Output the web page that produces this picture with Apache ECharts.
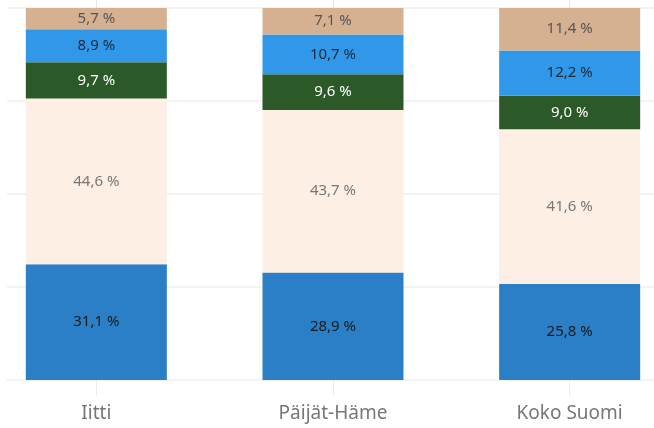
<!DOCTYPE html>
<html>
<head>
<meta charset="utf-8">
<script src="https://cdn.jsdelivr.net/npm/echarts@6/dist/echarts.min.js"></script>
<style>
  html, body { margin: 0; padding: 0; background: #fff; }
  #chart { width: 654px; height: 428px; }
</style>
</head>
<body>
<div id="chart"></div>
<script>
/* =========================================
   DATA
   ========================================= */
const categories = ["Iitti", "Päijät-Häme", "Koko Suomi"];

const seriesA = [31.1, 28.9, 25.8]; // bottom, blue
const seriesB = [44.6, 43.7, 41.6]; // cream
const seriesC = [9.7, 9.6, 9.0];    // dark green
const seriesD = [8.9, 10.7, 12.2];  // light blue
const seriesE = [5.7, 7.1, 11.4];   // tan, top

const gridTicks = [0, 25, 50, 75, 100];

/* =========================================
   CHART
   ========================================= */
const FONT = "Noto Sans";

function fmt(p) {
  return p.value.toFixed(1).replace(".", ",") + " %";
}

function barSeries(name, data, color, labelColor) {
  return {
    name: name,
    type: "bar",
    stack: "total",
    xAxisIndex: 1,
    yAxisIndex: 1,
    barWidth: 141,
    data: data,
    itemStyle: { color: color },
    label: {
      show: true,
      position: "inside",
      formatter: fmt,
      color: labelColor,
      fontFamily: FONT,
      fontSize: 15,
    },
    silent: true,
  };
}

function initChart() {
  const chart = echarts.init(document.getElementById("chart"), null, { renderer: "canvas" });

  const option = {
    animation: false,
    backgroundColor: "#fff",
    grid: [
      // background grid lines
      { left: 7, right: 0, top: 8, bottom: 48, outerBoundsMode: "none" },
      // bars (categories spread wider than the visible area)
      { left: -22, right: -34, top: 8, bottom: 48, outerBoundsMode: "none" },
    ],
    xAxis: [
      { gridIndex: 0, type: "value", show: false },
      {
        gridIndex: 1,
        type: "category",
        data: categories,
        axisLine: { show: false },
        axisTick: { show: true, alignWithLabel: true, length: 16, lineStyle: { color: "#ececec" } },
        axisLabel: { color: "#777", fontSize: 19, fontFamily: FONT, margin: 24 },
      },
      {
        gridIndex: 1,
        type: "category",
        position: "top",
        data: categories,
        axisLine: { show: false },
        axisTick: { show: true, alignWithLabel: true, length: 8, lineStyle: { color: "#e6e6e6" } },
        axisLabel: { show: false },
      },
    ],
    yAxis: [
      {
        gridIndex: 0,
        type: "value",
        min: gridTicks[0],
        max: gridTicks[gridTicks.length - 1],
        interval: 25,
        axisLine: { show: false },
        axisTick: { show: false },
        axisLabel: { show: false },
        splitLine: { lineStyle: { color: "#efefef", width: 1.5 } },
      },
      {
        gridIndex: 1,
        type: "value",
        min: 0,
        max: 100,
        show: false,
      },
    ],
    series: [
      barSeries("A", seriesA, "#2a7fc6", "#1b1b1b"),
      barSeries("B", seriesB, "#fdefe3", "#777"),
      barSeries("C", seriesC, "#2b5a28", "#fff"),
      barSeries("D", seriesD, "#3197e8", "#1e2a36"),
      barSeries("E", seriesE, "#d5b192", "#555"),
    ],
  };

  chart.setOption(option);
}

document.addEventListener("DOMContentLoaded", initChart);
</script>
</body>
</html>
